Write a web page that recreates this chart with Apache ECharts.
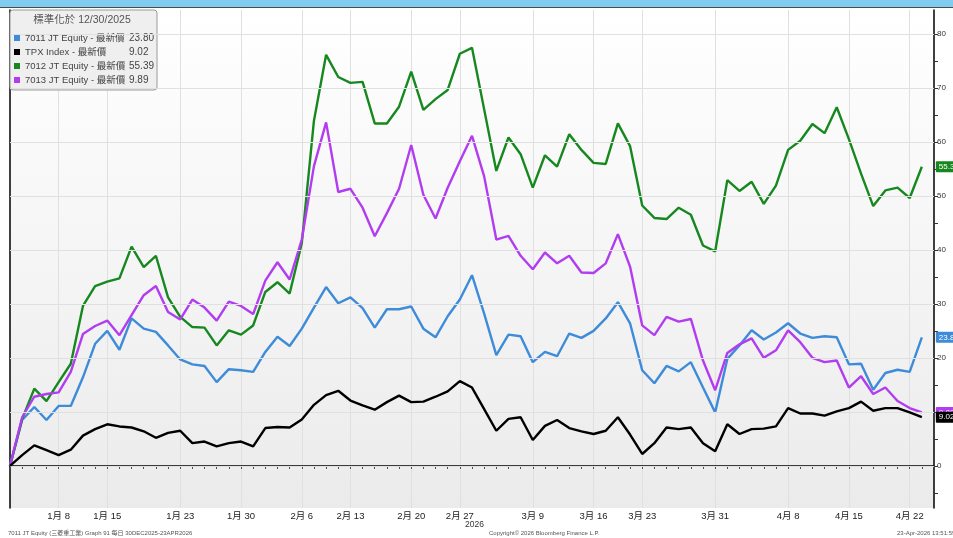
<!DOCTYPE html>
<html><head><meta charset="utf-8">
<script src="https://cdn.jsdelivr.net/npm/echarts@6/dist/echarts.min.js"></script>
<style>html,body{margin:0;padding:0;background:#fff}#c{width:953px;height:538px}</style>
</head><body><div id="c"></div>
<script>
const dates = [
'2025-12-30',
'2026-01-05','2026-01-06','2026-01-07','2026-01-08','2026-01-09',
'2026-01-13','2026-01-14','2026-01-15','2026-01-16',
'2026-01-19','2026-01-20','2026-01-21','2026-01-22','2026-01-23',
'2026-01-26','2026-01-27','2026-01-28','2026-01-29','2026-01-30',
'2026-02-02','2026-02-03','2026-02-04','2026-02-05','2026-02-06',
'2026-02-09','2026-02-10','2026-02-12','2026-02-13',
'2026-02-16','2026-02-17','2026-02-18','2026-02-19','2026-02-20',
'2026-02-24','2026-02-25','2026-02-26','2026-02-27',
'2026-03-02','2026-03-03','2026-03-04','2026-03-05','2026-03-06',
'2026-03-09','2026-03-10','2026-03-11','2026-03-12','2026-03-13',
'2026-03-16','2026-03-17','2026-03-18','2026-03-19',
'2026-03-23','2026-03-24','2026-03-25','2026-03-26','2026-03-27',
'2026-03-30','2026-03-31',
'2026-04-01','2026-04-02','2026-04-03',
'2026-04-06','2026-04-07','2026-04-08','2026-04-09','2026-04-10',
'2026-04-13','2026-04-14','2026-04-15','2026-04-16','2026-04-17',
'2026-04-20','2026-04-21','2026-04-22','2026-04-23'
];
const labelDates = ['2026-01-08','2026-01-15','2026-01-23','2026-01-30','2026-02-06','2026-02-13','2026-02-20','2026-02-27','2026-03-09','2026-03-16','2026-03-23','2026-03-31','2026-04-08','2026-04-15','2026-04-22'];

const seriesNames = ['7011 JT Equity','TPX Index','7012 JT Equity','7013 JT Equity'];
const seriesColors = ['#3d8bd9','#000000','#16881f','#b23cf0'];

const s7011 = [0,8.5,10.9,8.5,11.1,11.1,16.4,22.6,25.0,21.5,27.3,25.4,24.8,22.3,19.7,18.8,18.5,15.5,17.9,17.7,
17.4,21.1,23.9,22.2,25.4,29.3,33.1,30.1,31.2,29.2,25.6,29.0,29.0,29.5,25.4,23.8,27.7,30.8,35.3,28.2,
20.5,24.3,24.0,19.2,21.1,20.3,24.5,23.7,25.0,27.3,30.3,26.4,17.7,15.3,18.5,17.5,19.2,14.5,9.9,19.8,
22.3,25.1,23.4,24.7,26.4,24.5,23.7,24.0,23.8,18.8,18.9,14.1,17.2,17.8,17.4,23.80];
const tpx = [0,2.0,3.8,2.9,2.0,3.0,5.6,6.8,7.7,7.3,7.1,6.4,5.2,6.1,6.5,4.2,4.5,3.6,4.2,4.5,
3.6,7.0,7.2,7.1,8.6,11.3,13.1,13.9,12.1,11.2,10.4,11.8,13.0,11.8,11.9,12.8,13.8,15.7,14.5,10.5,
6.5,8.7,9.0,4.8,7.4,8.5,7.0,6.4,5.9,6.5,9.0,5.8,2.2,4.2,7.1,6.8,7.1,4.2,2.7,7.7,
5.9,6.8,6.9,7.3,10.7,9.7,9.7,9.3,10.1,10.7,11.9,10.2,10.7,10.7,9.9,9.02];
const s7012 = [0,8.7,14.3,12.0,15.5,18.9,29.6,33.3,34.1,34.7,40.6,36.8,38.9,31.2,27.6,25.7,25.6,22.3,25.1,24.3,
26.0,32.2,34.0,31.9,41.2,63.9,76.1,72.0,70.9,71.1,63.4,63.4,66.5,73.0,65.9,67.9,69.6,76.3,77.4,66.0,
54.6,60.8,57.7,51.5,57.5,55.4,61.4,58.5,56.1,55.9,63.4,59.2,48.2,45.9,45.7,47.8,46.5,40.8,39.7,52.9,
50.9,52.6,48.5,51.9,58.5,60.2,63.3,61.6,66.4,60.5,54.1,48.1,51.0,51.5,49.6,55.39];
const s7013 = [0,9.0,12.8,13.3,13.6,17.4,24.4,25.9,26.9,24.2,27.9,31.6,33.3,28.5,27.1,30.8,29.3,26.9,30.4,29.6,
28.1,34.3,37.7,34.5,41.9,55.5,63.6,50.7,51.3,47.8,42.5,46.8,51.3,59.4,50.2,45.8,51.5,56.4,61.1,53.6,
41.9,42.6,38.9,36.4,39.5,37.5,38.9,35.8,35.7,37.5,42.9,36.9,26.0,24.2,27.6,26.7,27.2,19.5,14.0,20.9,
22.5,23.6,20.0,21.4,25.1,22.9,20.0,19.2,19.5,14.5,16.6,13.3,14.5,12.0,10.7,9.89];

const yTickValues = [-5,0,5,10,15,20,25,30,35,40,45,50,55,60,65,70,75,80];
const yLabelValues = [0,10,20,30,40,50,60,70,80];

const legendTitle = '標準化於 12/30/2025';
const legendSuffix = ' - 最新價';
const yearLabel = '2026';
const footerLeft = '7011 JT Equity (三菱重工業) Graph 91 每日 30DEC2025-23APR2026';
const footerMid = 'Copyright\u00A9 2026 Bloomberg Finance L.P.';
const footerRight = '23-Apr-2026 13:51:59';

const FONT = "'Liberation Sans','Noto Sans CJK TC',sans-serif";
const seriesData = [s7011, tpx, s7012, s7013];
const lastVal = {};
seriesNames.forEach((n,i)=>{ lastVal[n] = seriesData[i][seriesData[i].length-1]; });

function fmtDate(v){ const p = v.split('-'); return (+p[1]) + '月 ' + (+p[2]); }

const chart = echarts.init(document.getElementById('c'), null, {renderer:'canvas'});

const lineSeries = seriesNames.map((name,i)=>({
  name, type:'line', data: seriesData[i], symbol:'none', smooth:false,
  z: i===1 ? 6 : 3,
  lineStyle:{width:2.4, color: seriesColors[i]},
  itemStyle:{color: seriesColors[i]},
  emphasis:{disabled:true},
  endLabel:{show:true, formatter: p => Number(p.value).toFixed(2), color:'#fff',
    backgroundColor: seriesColors[i], fontSize:8, fontFamily:FONT, padding:[2,3,1,3], distance:14, borderRadius:1}
}));
// draw TPX last so its tag sits on top
const ordered = [lineSeries[0], lineSeries[2], lineSeries[3], lineSeries[1]];

const option = {
  animation:false,
  backgroundColor:'#ffffff',
  grid:{left:10, right:19, top:10, bottom:30, show:true, borderWidth:0,
    backgroundColor: new echarts.graphic.LinearGradient(0,0,0,1,[{offset:0,color:'#ffffff'},{offset:1,color:'#ebebeb'}])},
  title:{text:legendTitle, left:82, top:15, textAlign:'center', z:10, padding:0,
    textStyle:{fontSize:10.5, fontWeight:'normal', color:'#555', fontFamily:FONT}},
  legend:{data:seriesNames, orient:'vertical', left:10, top:10, padding:[21,3,3,4], itemGap:0,
    itemWidth:6, itemHeight:6, itemTextGap:2, icon:'rect',
    backgroundColor:'#efefef', borderColor:'#9a9a9a', borderWidth:1, borderRadius:3,
    selectedMode:false,
    textStyle:{fontSize:10, color:'#444', fontFamily:FONT, lineHeight:14,
      rich:{n:{width:104, fontSize:9.5, lineHeight:14, color:'#444', fontFamily:FONT},
            v:{width:24, fontSize:10, lineHeight:14, color:'#444', fontFamily:FONT}}},
    formatter: n => '{n|' + n + legendSuffix + '}{v|' + lastVal[n].toFixed(2) + '}'
  },
  xAxis:{type:'category', data:dates, boundaryGap:false, max: dates.length,
    axisLine:{lineStyle:{color:'#000', width:1.5}},
    axisTick:{show:true, interval:0, length:3, lineStyle:{color:'#444'}},
    axisLabel:{interval:(i,v)=>labelDates.includes(v), formatter: v => fmtDate(v), fontSize:9.5, color:'#222', margin:4, fontFamily:FONT},
    splitLine:{show:true, interval:(i,v)=>labelDates.includes(v), lineStyle:{color:'#e0e0e0', width:1}}
  },
  yAxis:[
    {type:'value', position:'right', min:-7.8, max:84.4,
      axisLine:{show:true, lineStyle:{color:'#000', width:1.5}},
      axisTick:{show:true, customValues:yTickValues, length:4, lineStyle:{color:'#333'}},
      axisLabel:{customValues:yLabelValues, fontSize:8, color:'#333', margin:3, fontFamily:FONT},
      splitLine:{show:false}},
    {type:'value', position:'left', min:-7.8, max:84.4,
      axisLine:{show:true, lineStyle:{color:'#000', width:1.5}},
      axisTick:{show:false}, axisLabel:{show:false}, splitLine:{show:false}}
  ],
  series:[
    {name:'grid', type:'line', data:[], z:1, silent:true,
      markLine:{silent:true, symbol:'none', label:{show:false}, animation:false,
        lineStyle:{color:'#e0e0e0', width:1, type:'solid'},
        data: yLabelValues.map(v=>({yAxis:v}))}}
  ].concat(ordered),
  graphic:[
    {type:'rect', left:0, top:0, shape:{width:953, height:7}, style:{fill:'#80cdf1'}, z:100},
    {type:'rect', left:0, top:7, shape:{width:953, height:1}, style:{fill:'#4a4a4a'}, z:100},
    {type:'text', left:465, top:520, style:{text:yearLabel, fontSize:8.5, fill:'#333', fontFamily:FONT}},
    {type:'text', left:8, top:530, style:{text:footerLeft, fontSize:6, fill:'#555', fontFamily:FONT}},
    {type:'text', left:489, top:530, style:{text:footerMid, fontSize:6, fill:'#555', fontFamily:FONT}},
    {type:'text', left:897, top:530, style:{text:footerRight, fontSize:6, fill:'#555', fontFamily:FONT}}
  ]
};
chart.setOption(option);
</script>
</body></html>
